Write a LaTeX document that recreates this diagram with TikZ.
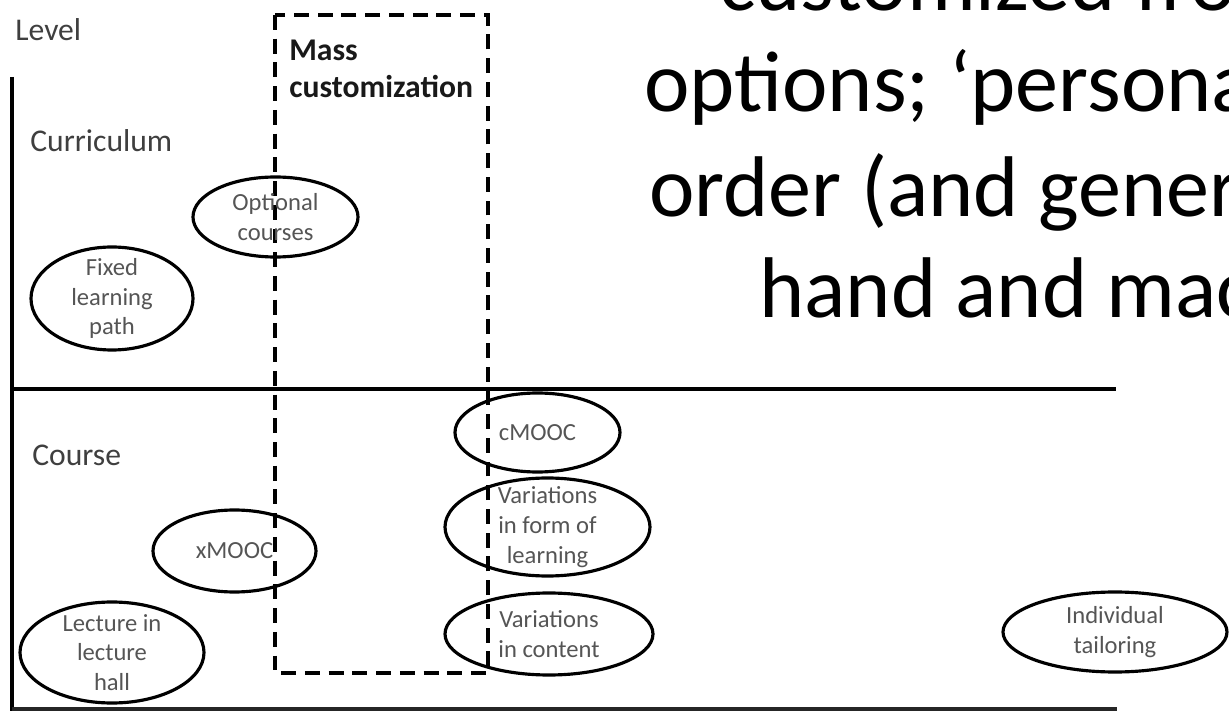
\documentclass[tikz,border=0pt]{standalone}
\usepackage{fontspec}
\setmainfont{Carlito}
\usetikzlibrary{shapes.geometric}

\definecolor{lvlgray}{HTML}{3F3F3F}
\definecolor{bubgray}{HTML}{555555}

\begin{document}
\begin{tikzpicture}[
    lvl/.style={anchor=base west, inner sep=0pt, text=lvlgray, font=\fontsize{18}{22}\selectfont},
    bubble/.style={ellipse, draw, line width=1.8pt, inner sep=-8pt, align=center, text=bubgray, font=\fontsize{14}{17}\selectfont},
    slide/.style={anchor=base west, inner sep=0pt, font=\fontsize{49}{59}\selectfont},
    massbox/.style={line width=2pt, dash pattern=on 8.5pt off 5pt}
]

    \useasboundingbox (0,0) rectangle (24.58,14.22);

    % slide text behind the figure
    \begin{scope}
        \clip (0,0) rectangle (24.58,14.22);
        \node[slide] (sline1) at (14.38, 14.00) {customized fro};
        \node[slide] (sline2) at (12.88, 11.98) {options; ‘persona};
        \node[slide] (sline3) at (12.98,  9.88) {order (and gener};
        \node[slide] (sline4) at (15.18,  7.86) {hand and mac};
    \end{scope}

    % axes and level divider
    \draw [line width=1.8pt] (0.24,12.68) -- (0.24,0);
    \draw [line width=1.8pt] (0.24,6.44) -- (22.32,6.44);
    \draw [line width=1.8pt, black!85] (0.24,0.04) -- (22.34,0.04);

    \node[lvl] (level)  at (0.30, 13.40) {Level};
    \node[lvl] (curric) at (0.60, 11.18) {Curriculum};
    \node[lvl] (course) at (0.64,  4.92) {Course};

    % mass customization band
    \draw [massbox] (5.50,13.92) rectangle (9.76,0.76);
    \node[lvl, text=black!90, font=\fontsize{18}{22}\selectfont\bfseries] (mass)    at (5.78, 13.00) {Mass};
    \node[lvl, text=black!90, font=\fontsize{18}{22}\selectfont\bfseries] (masscus) at (5.78, 12.26) {customization};

    %%%%%%%%%%%%%%%%%%%%%%%%%%%%%%%%%%%%%%%%%%%%%%%%%%%%%%%%%%%%%%%%%%%%%

    \node[bubble, minimum width=3.30cm, minimum height=1.60cm] (optional)  at (5.51, 9.88) {Optional\\courses};
    \node[bubble, minimum width=3.24cm, minimum height=2.06cm] (fixedpath) at (2.24, 8.25) {Fixed\\learning\\path};

    \node[bubble, minimum width=3.30cm, minimum height=1.58cm] (cmooc)   at (10.75, 5.57) {cMOOC};
    \node[bubble, minimum width=4.10cm, minimum height=1.96cm] (varform) at (10.95, 3.68) {Variations\\in form of\\learning};
    \node[bubble, minimum width=4.16cm, minimum height=1.64cm] (varcont) at (10.98, 1.54) {Variations\\in content};
    \node[bubble, minimum width=3.26cm, minimum height=1.64cm] (xmooc)   at (4.69, 3.20) {xMOOC};
    \node[bubble, minimum width=3.68cm, minimum height=2.02cm] (lecture) at (2.24, 1.17) {Lecture in\\lecture\\hall};
    \node[bubble, minimum width=4.48cm, minimum height=1.60cm] (indiv)   at (22.30, 1.58) {Individual\\tailoring};

\end{tikzpicture}
\end{document}
